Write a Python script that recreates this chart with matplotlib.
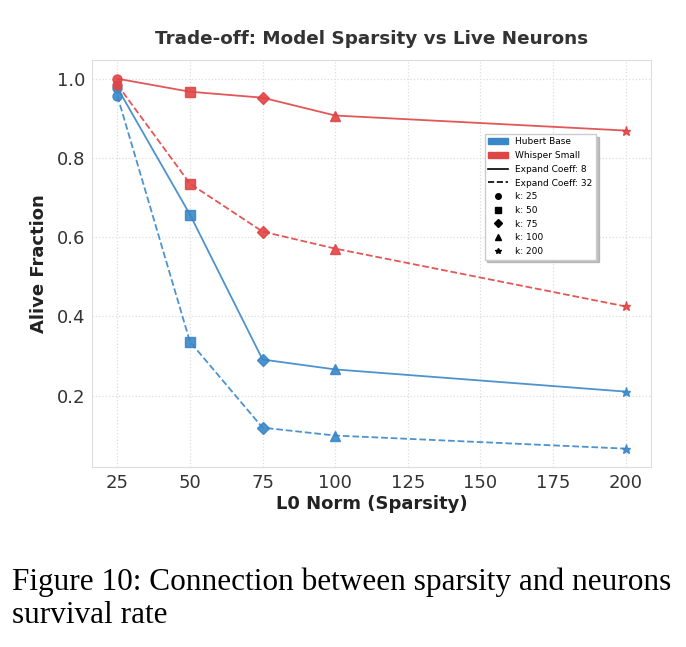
import numpy as np
import matplotlib as mpl
import matplotlib.pyplot as plt
from matplotlib.patches import Patch
from matplotlib.lines import Line2D

mpl.rc('font', family='DejaVu Sans')

# data
l0 = [25, 50, 75, 100, 200]
markers = ['o', 's', 'D', '^', '*']
k_labels = ['k: 25', 'k: 50', 'k: 75', 'k: 100', 'k: 200']

hubert_ec8 = [0.977, 0.657, 0.291, 0.266, 0.210]
hubert_ec32 = [0.957, 0.336, 0.119, 0.099, 0.066]
whisper_ec8 = [1.000, 0.967, 0.952, 0.907, 0.869]
whisper_ec32 = [0.985, 0.735, 0.614, 0.571, 0.425]

c_hub = '#3a87c8'
c_wsp = '#e04545'

fig = plt.figure(figsize=(6.86, 6.47), dpi=100)
ax = fig.add_axes([0.134, 0.278, 0.815, 0.629])

series = [
    (hubert_ec8, c_hub, '-'),
    (hubert_ec32, c_hub, '--'),
    (whisper_ec8, c_wsp, '-'),
    (whisper_ec32, c_wsp, '--'),
]
for vals, col, ls in series:
    ax.plot(l0, vals, color=col, ls=ls, lw=1.3, alpha=0.9)
    for x, y, m in zip(l0, vals, markers):
        ax.plot(x, y, marker=m, color=col, ms=6.5, alpha=0.9, ls='none')

ax.set_xticks([25, 50, 75, 100, 125, 150, 175, 200])
ax.set_yticks([0.2, 0.4, 0.6, 0.8, 1.0])
ax.grid(True, ls=':', color='#dddddd', lw=0.9)
for s in ax.spines.values():
    s.set_color('#dddddd')
ax.tick_params(length=0, labelsize=13, colors='#333333', pad=5)
ax.set_xlabel('L0 Norm (Sparsity)', fontsize=13, fontweight='bold', color='#222222',
              labelpad=2)
ax.set_ylabel('Alive Fraction', fontsize=13, fontweight='bold', color='#222222',
              labelpad=6)
ax.set_title('Trade-off: Model Sparsity vs Live Neurons', fontsize=13.2,
             fontweight='bold', color='#333333', pad=12)

handles = [
    Patch(color=c_hub, label='Hubert Base'),
    Patch(color=c_wsp, label='Whisper Small'),
    Line2D([0], [0], color='black', ls='-', lw=1.2, label='Expand Coeff: 8'),
    Line2D([0], [0], color='black', ls='--', lw=1.2, label='Expand Coeff: 32'),
]
for m, lab in zip(markers, k_labels):
    handles.append(Line2D([0], [0], marker=m, color='black', ls='none', ms=4, label=lab))
leg = ax.legend(handles=handles, loc='upper right', bbox_to_anchor=(0.91, 0.83),
                fontsize=6.5, frameon=True, shadow={'color': '#999999', 'alpha': 0.6},
                fancybox=False, handlelength=2.2, labelspacing=0.52)
leg.get_frame().set_edgecolor('#cccccc')

fig.text(0.017, 0.075, 'Figure 10: Connection between sparsity and neurons\nsurvival rate',
         family='Liberation Serif', fontsize=22.5, va='center', ha='left', linespacing=1.2)

plt.savefig('out.png', dpi=100)
